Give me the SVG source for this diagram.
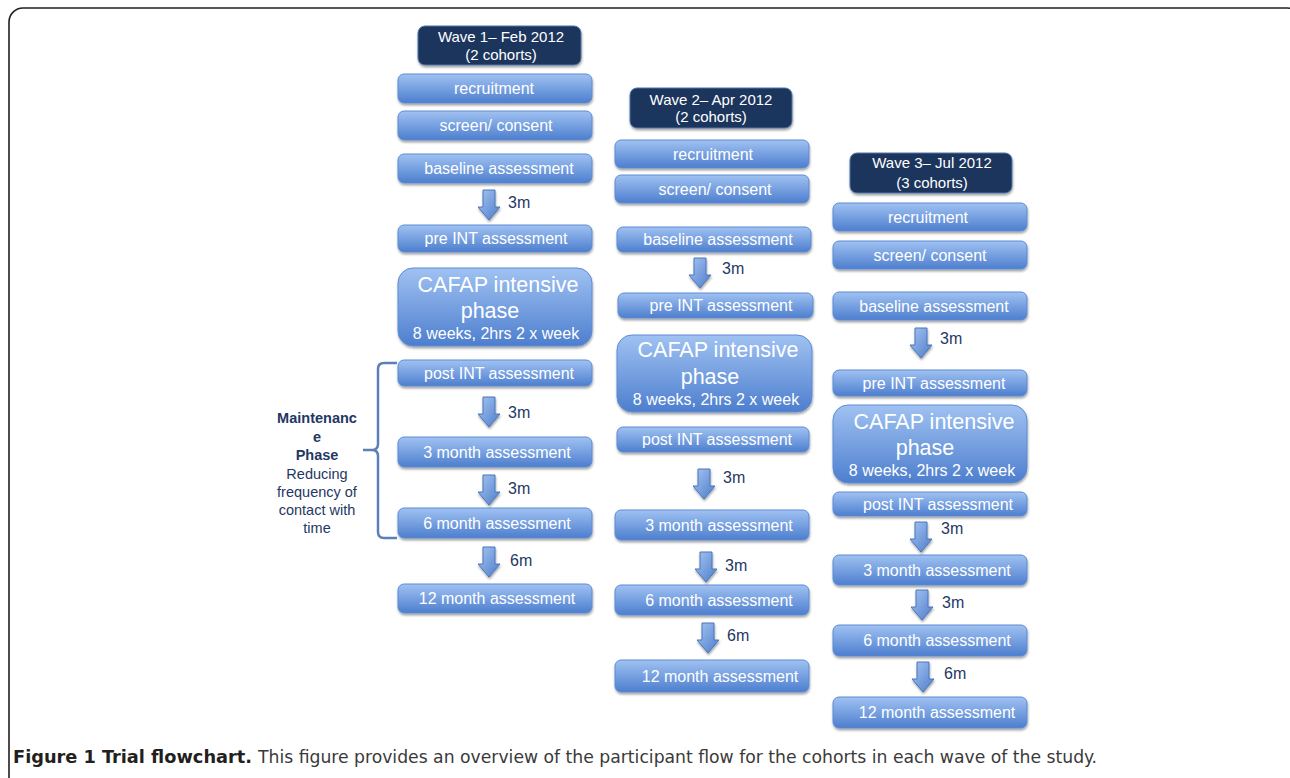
<svg xmlns="http://www.w3.org/2000/svg" width="1290" height="778" viewBox="0 0 1290 778">
<defs>
<linearGradient id="gBox" x1="0" y1="0" x2="0" y2="1">
<stop offset="0" stop-color="#a0c2f2"/>
<stop offset="1" stop-color="#4d7ece"/>
</linearGradient>
<linearGradient id="gArr" x1="0" y1="0" x2="1" y2="1">
<stop offset="0" stop-color="#a6c6f2"/>
<stop offset="1" stop-color="#4d7ccb"/>
</linearGradient>
<filter id="sh" x="-10%" y="-20%" width="120%" height="150%">
<feDropShadow dx="0.5" dy="2" stdDeviation="1.3" flood-color="#000" flood-opacity="0.35"/>
</filter>
<path id="arr" d="M-6,0 L6,0 L6,17 L11,17 L0,30 L-11,17 L-6,17 Z"/>
</defs>
<style>
.box{fill:url(#gBox);stroke:#5d8bd4;stroke-width:1;filter:url(#sh)}
.hdr{fill:#1b365d;stroke:#4e73a8;stroke-width:1;filter:url(#sh)}
.t{font-family:"Liberation Sans",Arial,sans-serif;font-size:16px;fill:#ffffff;text-anchor:middle}
.th{font-family:"Liberation Sans",Arial,sans-serif;font-size:15px;fill:#ffffff;text-anchor:middle}
.tb{font-family:"Liberation Sans",Arial,sans-serif;font-size:21.5px;fill:#ffffff;text-anchor:middle}
.lbl{font-family:"Liberation Sans",Arial,sans-serif;font-size:16px;fill:#1f3864}
.arr{fill:url(#gArr);stroke:#4a74bd;stroke-width:1;filter:url(#sh)}
.mt{font-family:"Liberation Sans",Arial,sans-serif;font-size:14.5px;fill:#1f3864;text-anchor:middle}
</style>
<rect x="0" y="0" width="1290" height="778" fill="#ffffff"/>
<rect x="9" y="8" width="1292" height="785" rx="14" fill="none" stroke="#231f20" stroke-width="1.6"/>

<!-- Column 1 -->
<g id="w1-header"><rect class="hdr" x="418" y="26" width="163" height="39" rx="7"/><text class="th" x="501" y="42">Wave 1– Feb 2012</text><text class="th" x="501" y="60">(2 cohorts)</text></g>
<g id="w1-recruit"><rect class="box" x="398" y="74" width="194" height="29" rx="6"/><text class="t" x="494" y="94">recruitment</text></g>
<g id="w1-screen"><rect class="box" x="398" y="111" width="194" height="29" rx="6"/><text class="t" x="496" y="131">screen/ consent</text></g>
<g id="w1-baseline"><rect class="box" x="398" y="154" width="194" height="29" rx="6"/><text class="t" x="499" y="174">baseline assessment</text></g>
<g id="w1-pre"><rect class="box" x="398" y="225" width="194" height="27" rx="6"/><text class="t" x="496" y="244">pre INT assessment</text></g>
<g id="w1-cafap"><rect class="box" x="398" y="268" width="194" height="78" rx="15"/><text class="tb" x="498" y="292">CAFAP intensive</text><text class="tb" x="490" y="318">phase</text><text class="t" x="496" y="339">8 weeks, 2hrs 2 x week</text></g>
<g id="w1-post"><rect class="box" x="398" y="360" width="194" height="26" rx="6"/><text class="t" x="499" y="378.5">post INT assessment</text></g>
<g id="w1-3m"><rect class="box" x="398" y="437" width="194" height="30" rx="6"/><text class="t" x="497" y="457.5">3 month assessment</text></g>
<g id="w1-6m"><rect class="box" x="398" y="508" width="194" height="30" rx="6"/><text class="t" x="497" y="528.5">6 month assessment</text></g>
<g id="w1-12m"><rect class="box" x="398" y="584" width="194" height="29" rx="6"/><text class="t" x="497" y="604">12 month assessment</text></g>

<!-- Maintenance label -->
<g id="maintenance">
<path d="M397,363 L384,363 Q378,363 378,369 L378,444 Q378,450 372,450 L363,450 M372,450 Q378,450 378,456 L378,532 Q378,538 384,538 L397,538" fill="none" stroke="#5b80b6" stroke-width="2.5"/>
<text class="mt" x="317" y="423" font-weight="bold">Maintenanc</text>
<text class="mt" x="317" y="442" font-weight="bold">e</text>
<text class="mt" x="317" y="460" font-weight="bold">Phase</text>
<text class="mt" x="317" y="479">Reducing</text>
<text class="mt" x="317" y="497">frequency of</text>
<text class="mt" x="317" y="515">contact with</text>
<text class="mt" x="317" y="533">time</text>
</g>

<!-- Column 2 -->
<g id="w2-header"><rect class="hdr" x="630" y="88" width="162" height="40" rx="7"/><text class="th" x="711" y="105">Wave 2– Apr 2012</text><text class="th" x="711" y="122">(2 cohorts)</text></g>
<g id="w2-recruit"><rect class="box" x="615" y="140" width="194" height="28" rx="6"/><text class="t" x="713" y="159.5">recruitment</text></g>
<g id="w2-screen"><rect class="box" x="615" y="175" width="194" height="28" rx="6"/><text class="t" x="715" y="194.5">screen/ consent</text></g>
<g id="w2-baseline"><rect class="box" x="617" y="227" width="194" height="25" rx="6"/><text class="t" x="718" y="245">baseline assessment</text></g>
<g id="w2-pre"><rect class="box" x="618" y="293" width="195" height="25" rx="6"/><text class="t" x="721" y="311">pre INT assessment</text></g>
<g id="w2-cafap"><rect class="box" x="617" y="335" width="195" height="77" rx="15"/><text class="tb" x="718" y="357">CAFAP intensive</text><text class="tb" x="710" y="384">phase</text><text class="t" x="716" y="405">8 weeks, 2hrs 2 x week</text></g>
<g id="w2-post"><rect class="box" x="617" y="427" width="192" height="25" rx="6"/><text class="t" x="717" y="445">post INT assessment</text></g>
<g id="w2-3m"><rect class="box" x="615" y="510" width="194" height="30" rx="6"/><text class="t" x="719" y="530.5">3 month assessment</text></g>
<g id="w2-6m"><rect class="box" x="615" y="585" width="194" height="30" rx="6"/><text class="t" x="719" y="605.5">6 month assessment</text></g>
<g id="w2-12m"><rect class="box" x="615" y="660" width="194" height="32" rx="6"/><text class="t" x="720" y="681.5">12 month assessment</text></g>

<!-- Column 3 -->
<g id="w3-header"><rect class="hdr" x="850" y="153" width="162" height="40" rx="7"/><text class="th" x="932" y="168">Wave 3– Jul 2012</text><text class="th" x="932" y="188">(3 cohorts)</text></g>
<g id="w3-recruit"><rect class="box" x="833" y="203" width="194" height="28" rx="6"/><text class="t" x="928" y="222.5">recruitment</text></g>
<g id="w3-screen"><rect class="box" x="833" y="241" width="194" height="28" rx="6"/><text class="t" x="930" y="260.5">screen/ consent</text></g>
<g id="w3-baseline"><rect class="box" x="833" y="292" width="194" height="28" rx="6"/><text class="t" x="934" y="311.5">baseline assessment</text></g>
<g id="w3-pre"><rect class="box" x="833" y="370" width="194" height="26" rx="6"/><text class="t" x="934" y="388.5">pre INT assessment</text></g>
<g id="w3-cafap"><rect class="box" x="833" y="405" width="194" height="78" rx="15"/><text class="tb" x="934" y="429">CAFAP intensive</text><text class="tb" x="925" y="455">phase</text><text class="t" x="932" y="476">8 weeks, 2hrs 2 x week</text></g>
<g id="w3-post"><rect class="box" x="833" y="492" width="194" height="24" rx="6"/><text class="t" x="938" y="509.5">post INT assessment</text></g>
<g id="w3-3m"><rect class="box" x="833" y="555" width="194" height="30" rx="6"/><text class="t" x="937" y="575.5">3 month assessment</text></g>
<g id="w3-6m"><rect class="box" x="833" y="625" width="194" height="31" rx="6"/><text class="t" x="937" y="646">6 month assessment</text></g>
<g id="w3-12m"><rect class="box" x="833" y="697" width="194" height="31" rx="6"/><text class="t" x="937" y="718">12 month assessment</text></g>

<!-- Connectors -->
<g id="connectors">
<use href="#arr" class="arr" x="489" y="190"/><text class="lbl" x="508" y="208">3m</text>
<use href="#arr" class="arr" x="489" y="397"/><text class="lbl" x="508" y="418">3m</text>
<use href="#arr" class="arr" x="489" y="475"/><text class="lbl" x="508" y="494">3m</text>
<use href="#arr" class="arr" x="489" y="547"/><text class="lbl" x="510" y="566">6m</text>
<use href="#arr" class="arr" x="700" y="258"/><text class="lbl" x="722" y="274">3m</text>
<use href="#arr" class="arr" x="704" y="469"/><text class="lbl" x="723" y="483">3m</text>
<use href="#arr" class="arr" x="706" y="552"/><text class="lbl" x="725" y="571">3m</text>
<use href="#arr" class="arr" x="708" y="623"/><text class="lbl" x="727" y="641">6m</text>
<use href="#arr" class="arr" x="921" y="328"/><text class="lbl" x="940" y="344">3m</text>
<use href="#arr" class="arr" x="921" y="522"/><text class="lbl" x="941" y="534">3m</text>
<use href="#arr" class="arr" x="922" y="590"/><text class="lbl" x="942" y="608">3m</text>
<use href="#arr" class="arr" x="923" y="662"/><text class="lbl" x="944" y="679">6m</text>
</g>

<!-- Caption -->
<text x="13" y="763" font-family="'Liberation Sans Narrow','DejaVu Sans Condensed','Liberation Sans',sans-serif" font-size="17.5" font-weight="bold" fill="#231f20" textLength="239" lengthAdjust="spacingAndGlyphs">Figure 1 Trial flowchart.</text>
<text x="258" y="763" font-family="'Liberation Sans Narrow','DejaVu Sans Condensed','Liberation Sans',sans-serif" font-size="17.5" fill="#3a3a3a" textLength="839" lengthAdjust="spacingAndGlyphs">This figure provides an overview of the participant flow for the cohorts in each wave of the study.</text>
</svg>
